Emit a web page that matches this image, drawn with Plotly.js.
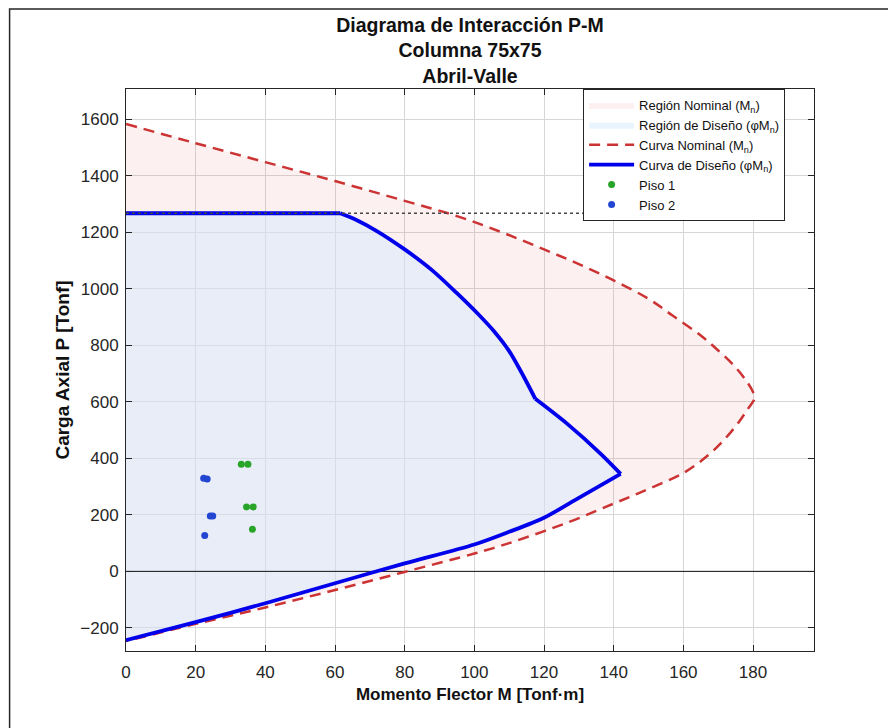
<!DOCTYPE html>
<html>
<head>
<meta charset="utf-8">
<script src="https://cdn.plot.ly/plotly-3.0.1.min.js"></script>
<style>
  html, body { margin: 0; padding: 0; background: #fff; }
  #chart { width: 888px; height: 728px; }
</style>
</head>
<body>
<div id="chart"></div>
<script>
// Nominal interaction curve (Mn, Pn)
const M_nom = [0, 20, 40, 60, 80, 95, 108, 120, 130, 140, 150, 157, 165, 170, 174.5, 178, 180, 180.5, 178.5, 176, 172, 167, 160, 150, 140, 127, 110, 100, 80, 60, 40, 20, 0];
const P_nom = [1584, 1516, 1449, 1382, 1312, 1258, 1200, 1140, 1088, 1030, 965, 905, 835, 782, 729, 676, 635, 615, 575, 530, 470, 410, 348, 292, 240, 174, 100, 63, -2, -66, -128, -186, -247];

// Design interaction curve (phiMn, phiPn)
const M_dis = [0, 61.5, 66, 72, 80, 88, 95, 101, 106, 110, 113.5, 117.5, 126.6, 136.2, 142, 130, 120, 110, 100, 80, 60, 40, 20, 0];
const P_dis = [1268, 1268, 1245, 1205, 1140, 1065, 985, 912, 845, 780, 705, 611, 523, 417, 345, 260, 190, 140, 95, 28, -42, -113, -180, -244];
// indices of the sharp corners of the design curve
const cornerIdx = [1, 11, 14];

// Cap line (phiPn,max)
const M_cap = [0, 180.5];
const P_cap = [1268, 1268];

// P = 0 reference line
const M_zero = [0, 197.5];
const P_zero = [0, 0];

// Demand points
const M_piso1 = [33.1, 35.0, 34.6, 36.5, 36.3];
const P_piso1 = [379, 379, 228, 228, 149];
const M_piso2 = [22.3, 23.3, 24.2, 24.9, 22.6];
const P_piso2 = [330, 327, 196, 196, 127];

const FONT = '"Liberation Sans", Arial, Helvetica, sans-serif';
const DARK = '#262626';
const BLUE = 'rgb(0,0,235)';

function seg(arr, a, b) { return arr.slice(a, b + 1); }
const bounds = [0].concat(cornerIdx, [M_dis.length - 1]);

const traces = [
  { x: M_nom, y: P_nom, type: 'scatter', mode: 'lines', fill: 'toself',
    line: { width: 0, shape: 'spline', smoothing: 1, color: 'rgba(0,0,0,0)' },
    fillcolor: 'rgba(230,80,80,0.085)', name: 'Región Nominal (M<sub>n</sub>)', legendrank: 1, hoverinfo: 'skip' },
  { x: M_dis, y: P_dis, type: 'scatter', mode: 'lines', fill: 'toself',
    line: { width: 0, color: 'rgba(0,0,0,0)' },
    fillcolor: 'rgba(215,235,255,0.55)', name: 'Región de Diseño (φM<sub>n</sub>)', legendrank: 2, hoverinfo: 'skip' },
  { x: M_zero, y: P_zero, type: 'scatter', mode: 'lines',
    line: { color: '#111', width: 1 }, showlegend: false, hoverinfo: 'skip' },
  { x: M_nom, y: P_nom, type: 'scatter', mode: 'lines',
    line: { color: 'rgb(204,51,51)', width: 2.5, dash: '11px,7px', shape: 'spline', smoothing: 1 },
    name: 'Curva Nominal (M<sub>n</sub>)', legendrank: 3 }
];

for (let s = 0; s < bounds.length - 1; s++) {
  traces.push({
    x: seg(M_dis, bounds[s], bounds[s + 1]), y: seg(P_dis, bounds[s], bounds[s + 1]),
    type: 'scatter', mode: 'lines',
    line: { color: BLUE, width: 3.8, shape: s === 0 ? 'linear' : 'spline', smoothing: 0.8 },
    name: 'Curva de Diseño (φM<sub>n</sub>)', legendgroup: 'dis', showlegend: s === 0, legendrank: 4
  });
}

traces.push(
  { x: M_cap, y: P_cap, type: 'scatter', mode: 'lines',
    line: { color: 'rgb(70,70,70)', width: 1.5, dash: 'dot' },
    showlegend: false, hoverinfo: 'skip' },
  { x: M_piso1, y: P_piso1, type: 'scatter', mode: 'markers',
    marker: { color: 'rgb(40,165,40)', size: 7 }, name: 'Piso 1', legendrank: 5 },
  { x: M_piso2, y: P_piso2, type: 'scatter', mode: 'markers',
    marker: { color: 'rgb(35,70,210)', size: 7 }, name: 'Piso 2', legendrank: 6 }
);

const axisCommon = {
  showline: true, linecolor: DARK, linewidth: 1, mirror: 'ticks',
  ticks: 'inside', ticklen: 6, tickcolor: DARK, tickwidth: 1,
  showgrid: true, gridcolor: 'rgb(215,215,215)', gridwidth: 1,
  tickfont: { family: FONT, size: 17, color: DARK },
  zeroline: false, automargin: false
};

const layout = {
  width: 888, height: 728,
  paper_bgcolor: '#ffffff', plot_bgcolor: '#ffffff',
  margin: { l: 126, r: 74, t: 89, b: 77 },
  font: { family: FONT, color: DARK },
  title: {
    text: '<b>Diagrama de Interacción P-M</b><br><b>Columna 75x75</b><br><b>Abril-Valle</b>',
    font: { family: FONT, size: 19.5, color: '#111' },
    x: 0.5, xref: 'paper', xanchor: 'center',
    y: 0.956, yref: 'container', yanchor: 'top'
  },
  xaxis: Object.assign({}, axisCommon, {
    range: [0, 197.5], dtick: 20, tick0: 0, ticklabelstandoff: 6,
    title: { text: '<b>Momento Flector M [Tonf·m]</b>', font: { family: FONT, size: 17, color: '#111' }, standoff: 6 }
  }),
  yaxis: Object.assign({}, axisCommon, {
    range: [-282, 1708], dtick: 200, tick0: 0, ticklabelstandoff: 3,
    title: { text: '<b>Carga Axial P [Tonf]</b>', font: { family: FONT, size: 19, color: '#111' }, standoff: 5 }
  }),
  legend: {
    x: 0.958, xanchor: 'right', y: 1, yanchor: 'top',
    bgcolor: '#ffffff', bordercolor: DARK, borderwidth: 1,
    font: { family: FONT, size: 13, color: '#111' },
    traceorder: 'normal', itemwidth: 45
  },
  shapes: [
    { type: 'rect', xref: 'paper', yref: 'paper',
      x0: -0.1692, x1: 1.6, y0: -0.6, y1: 1.1423,
      line: { color: DARK, width: 1.5 }, fillcolor: 'rgba(0,0,0,0)', layer: 'above' }
  ],
  showlegend: true
};

Plotly.newPlot('chart', traces, layout, { displayModeBar: false, staticPlot: true });
</script>
</body>
</html>
